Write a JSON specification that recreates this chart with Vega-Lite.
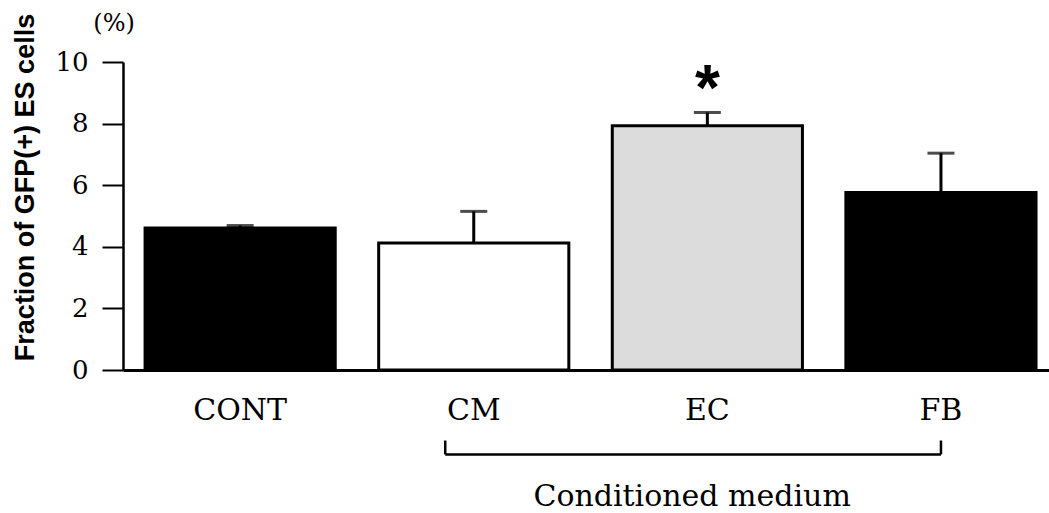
{
  "$schema": "https://vega.github.io/schema/vega-lite/v6.json",
  "width": 926,
  "height": 308,
  "autosize": {"type": "none"},
  "padding": {"left": 123, "top": 62, "right": 0, "bottom": 143},
  "background": "white",
  "config": {"view": {"stroke": null}},
  "datasets": {
    "bars": [
      {"group": "CONT", "mean": 4.61, "upper": 4.69},
      {"group": "CM", "mean": 4.12, "upper": 5.15},
      {"group": "EC", "mean": 7.93, "upper": 8.36},
      {"group": "FB", "mean": 5.76, "upper": 7.04}
    ],
    "star": [{"group": "EC", "upper": 8.36, "label": "*"}],
    "unit": [{"group": "CONT", "level": 10, "label": "(%)"}],
    "leftEnd": [{"group": "CM", "top": -2.29, "bottom": -2.74}],
    "rightEnd": [{"group": "FB", "top": -2.29, "bottom": -2.74}],
    "bracket": [{"group": "CM", "group2": "FB", "level": -2.74}],
    "note": [{"group": "EC", "level": -4.41, "label": "Conditioned medium"}]
  },
  "layer": [
    {
      "data": {"name": "bars"},
      "mark": {"type": "bar", "stroke": "black", "strokeWidth": 3},
      "encoding": {
        "x": {
          "field": "group", "type": "nominal", "title": null,
          "scale": {"domain": ["CONT", "CM", "EC", "FB"], "paddingInner": 0.186, "paddingOuter": 0.075, "align": 0.63},
          "axis": {"ticks": false, "labelAngle": 0, "labelFont": "DejaVu Serif", "labelFontSize": 30, "labelColor": "black", "labelPadding": 25, "domainColor": "black", "domainWidth": 3}
        },
        "y": {
          "field": "mean", "type": "quantitative",
          "title": "Fraction of GFP(+) ES cells",
          "scale": {"domain": [0, 10], "nice": false},
          "axis": {"values": [0, 2, 4, 6, 8, 10], "grid": false, "tickSize": 21, "tickWidth": 2, "tickColor": "black", "domainColor": "black", "domainWidth": 2.5, "labelFont": "DejaVu Serif", "labelFontSize": 26, "labelColor": "black", "labelPadding": 14, "titleFont": "Liberation Sans", "titleFontWeight": "bold", "titleFontSize": 27, "titleColor": "black", "titleX": -98, "titleY": 125, "titleBaseline": "middle", "titleAngle": -90}
        },
        "color": {"field": "group", "type": "nominal", "scale": {"domain": ["CONT", "CM", "EC", "FB"], "range": ["#000000", "#ffffff", "#dcdcdc", "#000000"]}, "legend": null}
      }
    },
    {
      "data": {"name": "bars"},
      "mark": {"type": "rule", "color": "black", "strokeWidth": 3},
      "encoding": {
        "x": {"field": "group", "type": "nominal"},
        "y": {"field": "mean", "type": "quantitative"},
        "y2": {"field": "upper"}
      }
    },
    {
      "data": {"name": "bars"},
      "mark": {"type": "tick", "color": "black", "size": 27, "thickness": 3},
      "encoding": {
        "x": {"field": "group", "type": "nominal"},
        "y": {"field": "upper", "type": "quantitative"}
      }
    },
    {
      "data": {"name": "star"},
      "mark": {"type": "text", "font": "Liberation Sans", "fontWeight": "bold", "fontSize": 64, "baseline": "alphabetic", "align": "center", "dy": -3, "color": "black"},
      "encoding": {
        "x": {"field": "group", "type": "nominal"},
        "y": {"field": "upper", "type": "quantitative"},
        "text": {"field": "label"}
      }
    },
    {
      "data": {"name": "unit"},
      "mark": {"type": "text", "font": "DejaVu Serif", "fontSize": 24, "baseline": "alphabetic", "align": "center", "dx": -31, "dy": -31, "color": "black"},
      "encoding": {
        "x": {"field": "group", "type": "nominal", "bandPosition": 0},
        "y": {"field": "level", "type": "quantitative"},
        "text": {"field": "label"}
      }
    },
    {
      "data": {"name": "leftEnd"},
      "mark": {"type": "rule", "color": "black", "strokeWidth": 2.5},
      "encoding": {
        "x": {"field": "group", "type": "nominal", "bandPosition": 0.35},
        "y": {"field": "top", "type": "quantitative"},
        "y2": {"field": "bottom"}
      }
    },
    {
      "data": {"name": "rightEnd"},
      "mark": {"type": "rule", "color": "black", "strokeWidth": 2.5},
      "encoding": {
        "x": {"field": "group", "type": "nominal", "bandPosition": 0.5},
        "y": {"field": "top", "type": "quantitative"},
        "y2": {"field": "bottom"}
      }
    },
    {
      "data": {"name": "bracket"},
      "mark": {"type": "rule", "color": "black", "strokeWidth": 2.5},
      "encoding": {
        "x": {"field": "group", "type": "nominal", "bandPosition": 0.35},
        "x2": {"field": "group2", "bandPosition": 0.5},
        "y": {"field": "level", "type": "quantitative"}
      }
    },
    {
      "data": {"name": "note"},
      "mark": {"type": "text", "font": "DejaVu Serif", "fontSize": 30, "baseline": "alphabetic", "align": "center", "color": "black"},
      "encoding": {
        "x": {"field": "group", "type": "nominal", "bandPosition": 0.42},
        "y": {"field": "level", "type": "quantitative"},
        "text": {"field": "label"}
      }
    }
  ]
}
